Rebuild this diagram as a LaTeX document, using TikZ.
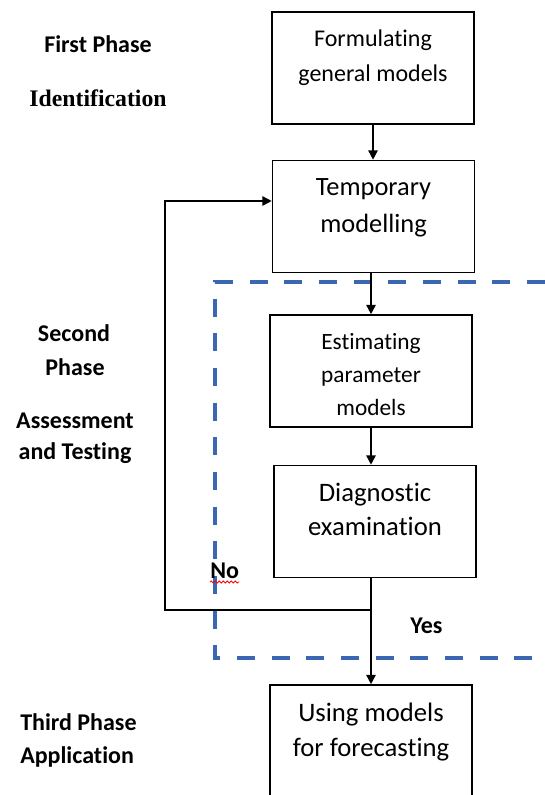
\documentclass[tikz,border=0pt]{standalone}
\usepackage{fontspec}
\setmainfont{Carlito}[Ligatures=NoCommon]
\newfontfamily\idfont{Liberation Serif}
\usetikzlibrary{arrows.meta, decorations.pathmorphing}

\definecolor{regionblue}{RGB}{58,102,178}

\tikzset{
  box/.style={draw, line width=1.2pt, inner sep=0pt, minimum width=151.5pt, minimum height=84pt},
  lbl/.style={anchor=north, inner sep=0pt, yshift=-14pt, align=center},
  phase/.style={anchor=base, inner sep=0pt, font=\bfseries\fontsize{18}{21}\selectfont},
  conn/.style={line width=1.2pt},
  region/.style={regionblue, line width=2.6pt, dash pattern=on 13.5pt off 12.5pt}
}

\begin{document}
\begin{tikzpicture}[x=0.75pt, y=-0.75pt, >={Triangle[length=7pt, width=7pt]}]
\useasboundingbox (0,0) rectangle (545,795);

% phases on the left
\node[phase] (first) at (98,53) {First Phase};
\node[phase, font=\idfont\bfseries\fontsize{17.8}{20}\selectfont] (ident) at (98,107) {Identification};
\node[phase] (second) at (74,341) {Second};
\node[phase] (secondb) at (75,375) {Phase};
\node[phase] (assess) at (75,428) {Assessment};
\node[phase] (testing) at (75,459) {and Testing};
\node[phase, anchor=base west] (third) at (20,730) {Third Phase};
\node[phase, anchor=base west] (appl) at (20,763) {Application};

% boxes
\node[box, label={[lbl, font=\fontsize{18}{26}\selectfont]north:Formulating\\general models}] (form) at (373,68) {};
\node[box, label={[lbl, font=\fontsize{19.8}{27.5}\selectfont]north:Temporary\\modelling}] (temp) at (373.5,216.5) {};
\node[box, label={[lbl, font=\fontsize{17.5}{25}\selectfont]north:Estimating\\parameter\\models}] (estim) at (371,371) {};
\node[box, label={[lbl, font=\fontsize{20}{25}\selectfont]north:Diagnostic\\examination}] (diag) at (375,521.5) {};
\node[box, minimum height=90pt, label={[lbl, font=\fontsize{20}{26}\selectfont]north:Using models\\for forecasting}] (use) at (371,745) {};

% region of the second phase
\draw[region] (545,282) -| (215,658) -- (545,658);

% arrows
\coordinate (jn) at (371,610);
\coordinate (back) at (165,201);
\draw[conn, ->] (form.south) -- (form.south |- temp.north);
\draw[conn, ->] (jn |- temp.south) -- (jn |- estim.north);
\draw[conn, ->] (estim.south) -- (estim.south |- diag.north);
\draw[conn] (jn |- diag.south) -- (jn);
\draw[conn, ->] (jn) -- (jn |- use.north);
\draw[conn, ->] (jn) -| (back) -- (back -| temp.west);

% answers
\node[phase, anchor=base west] (no) at (210,578) {No};
\draw[red, line width=0.6pt, decorate, decoration={snake, amplitude=0.8pt, segment length=3pt}]
  ([yshift=-3pt]no.base west) -- ([yshift=-3pt]no.base east);
\node[phase, anchor=base west] (yes) at (410,633) {Yes};

\end{tikzpicture}
\end{document}
